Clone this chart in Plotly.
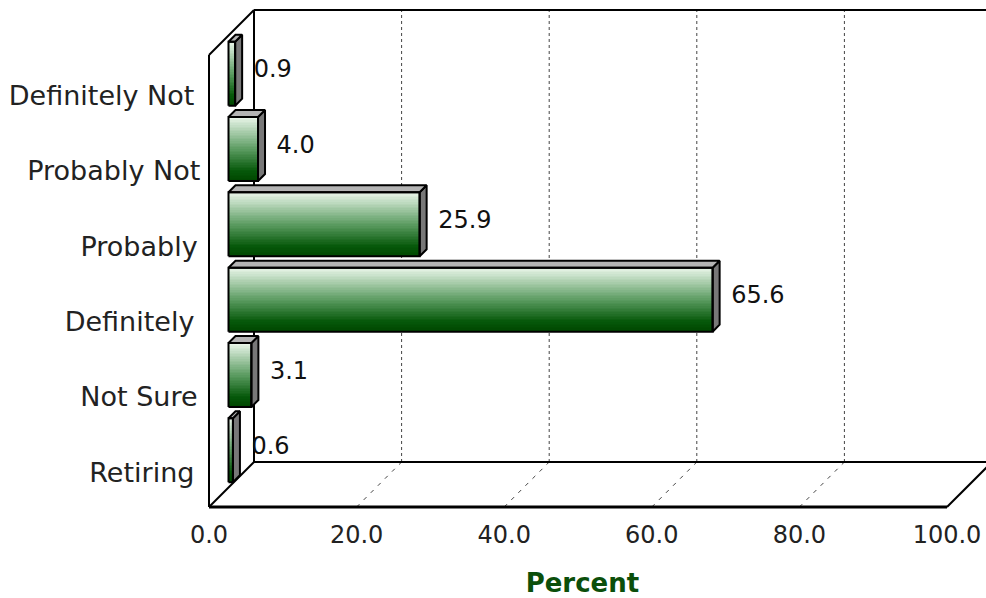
import plotly.graph_objects as go

# Survey responses, listed from the bottom row of the chart to the top
categories = ["Retiring", "Not Sure", "Definitely", "Probably", "Probably Not", "Definitely Not"]
values = [0.6, 3.1, 65.6, 25.9, 4.0, 0.9]
value_labels = ["0.6", "3.1", "65.6", "25.9", "4.0", "0.9"]
tick_text = ["Retiring\u00a0", "Not Sure\u2009", "Definitely\u00a0", "Probably\u2009", "Probably Not\u200a", "Definitely Not\u00a0"]
x_ticks = [0, 20, 40, 60, 80, 100]
x_tick_text = ["0.0", "20.0", "40.0", "60.0", "80.0", "100.0"]

W, H = 986, 598
LEFT, RIGHT, TOP, BOTTOM = 209, 947, 55, 507
PAD = 3  # room around the front edges so their strokes are not cut
X_MAX = 100
Y_MAX = len(categories)
PX_X = (RIGHT - LEFT) / X_MAX
PX_Y = (BOTTOM - TOP) / Y_MAX

# Pseudo-3D offsets, converted from pixels to axis units
DEPTH_X, DEPTH_Y = 45 / PX_X, 45 / PX_Y
BAR_DX, BAR_DY = 19.5 / PX_X, 19 / PX_Y
FACE_X, FACE_Y = 7 / PX_X, 7 / PX_Y
HALF_H = 32 / PX_Y
LABEL_GAP = 11.5 / PX_X
LABEL_LIFT = 2.5 / PX_Y
TICK_DROP = 3 / PX_Y
SLICES = 40

FONT = "DejaVu Sans"
STOPS = [(0.0, (232, 245, 232)), (0.5, (92, 156, 98)), (0.85, (6, 88, 10)), (1.0, (0, 72, 0))]


def shade(t):
    for (a, ca), (b, cb) in zip(STOPS, STOPS[1:]):
        if t <= b:
            k = (t - a) / (b - a)
            r, g, bl = (round(p + (q - p) * k) for p, q in zip(ca, cb))
            return f"rgb({r},{g},{bl})"
    return "rgb(0,72,0)"


def wall(x0, y0, x1, y1, color="black", width=2, dash="solid"):
    return dict(type="line", xref="x", yref="y", x0=x0, y0=y0, x1=x1, y1=y1, layer="below",
                line=dict(color=color, width=width, dash=dash))


def line(xs, ys, width=2):
    return go.Scatter(x=xs, y=ys, mode="lines", cliponaxis=False, hoverinfo="skip", showlegend=False,
                      line=dict(color="black", width=width))


def face(xs, ys, color):
    return go.Scatter(x=xs, y=ys, mode="lines", fill="toself", fillcolor=color, cliponaxis=False,
                      hoverinfo="skip", showlegend=False, line=dict(color="black", width=2))


# Dotted gridlines on the back wall and floor, then the wall and floor outline
shapes = []
for tick in x_ticks[1:-1]:
    shapes.append(wall(tick + DEPTH_X, DEPTH_Y, tick + DEPTH_X, Y_MAX + DEPTH_Y, "#444444", 1, "3px,3px"))
    shapes.append(wall(tick, 0, tick + DEPTH_X, DEPTH_Y, "#444444", 1, "4px,6px"))
shapes += [
    wall(DEPTH_X, DEPTH_Y, DEPTH_X, Y_MAX + DEPTH_Y),
    wall(DEPTH_X, DEPTH_Y, X_MAX + DEPTH_X, DEPTH_Y),
    wall(DEPTH_X, Y_MAX + DEPTH_Y, X_MAX + DEPTH_X, Y_MAX + DEPTH_Y),
    wall(0, Y_MAX, DEPTH_X, Y_MAX + DEPTH_Y),
    wall(0, 0, DEPTH_X, DEPTH_Y),
    wall(X_MAX, 0, X_MAX + DEPTH_X, DEPTH_Y),
    wall(0, 0, 0, Y_MAX),
    wall(0, 0, X_MAX, 0, width=3),
]

fig = go.Figure()

# Each bar: grey side and top faces plus a front face built from gradient slices
for i, (name, v) in enumerate(zip(categories, values)):
    cy = i + 0.5 + BAR_DY
    x0, x1 = BAR_DX, BAR_DX + v
    y0, y1 = cy - HALF_H, cy + HALF_H
    fig.add_trace(face([x1, x1 + FACE_X, x1 + FACE_X, x1, x1],
                       [y0, y0 + FACE_Y, y1 + FACE_Y, y1, y0], "#787878"))
    fig.add_trace(face([x0, x0 + FACE_X, x1 + FACE_X, x1, x0],
                       [y1, y1 + FACE_Y, y1 + FACE_Y, y1, y1], "#b4b4b4"))
    step = (y1 - y0) / SLICES
    fig.add_trace(go.Bar(
        name=name, orientation="h", base=x0, x=[v] * SLICES,
        y=[y1 - (k + 0.5) * step for k in range(SLICES)], width=step * 1.02,
        marker=dict(color=[shade(k / (SLICES - 1)) for k in range(SLICES)], line=dict(width=0)),
        hoverinfo="skip", showlegend=False,
    ))
    fig.add_trace(line([x0, x1, x1, x0, x0], [y0, y0, y1, y1, y0]))

# Value labels beside the bar ends
fig.add_trace(go.Scatter(
    x=[BAR_DX + FACE_X + v + LABEL_GAP for v in values],
    y=[i + 0.5 + BAR_DY + LABEL_LIFT for i in range(len(values))],
    mode="text", text=value_labels, textposition="middle right", cliponaxis=False,
    textfont=dict(family=FONT, size=24, color="#111111"), hoverinfo="skip", showlegend=False,
))

fig.update_layout(
    width=W, height=H, margin=dict(l=LEFT - PAD, r=0, t=0, b=H - BOTTOM - PAD, autoexpand=False),
    paper_bgcolor="white", plot_bgcolor="white", barmode="overlay", bargap=0, showlegend=False,
    shapes=shapes,
    xaxis=dict(
        range=[-PAD / PX_X, (W - LEFT) / PX_X], tickvals=x_ticks, ticktext=x_tick_text, showgrid=False,
        zeroline=False, showline=False, ticks="", ticklabelstandoff=8,
        tickfont=dict(family=FONT, size=24, color="#222222"),
        title=dict(text="<b>Percent\u00a0\u00a0\u00a0</b>", standoff=25, font=dict(family=FONT, size=26, color="#0b4f0b")),
    ),
    yaxis=dict(
        range=[-PAD / PX_Y, BOTTOM / PX_Y], tickvals=[i + 0.5 - TICK_DROP for i in range(len(categories))],
        ticktext=tick_text, showgrid=False, zeroline=False, showline=False, ticks="",
        ticklabelstandoff=2, tickfont=dict(family=FONT, size=27, color="#222222"),
    ),
)

fig.write_html("out.html")
